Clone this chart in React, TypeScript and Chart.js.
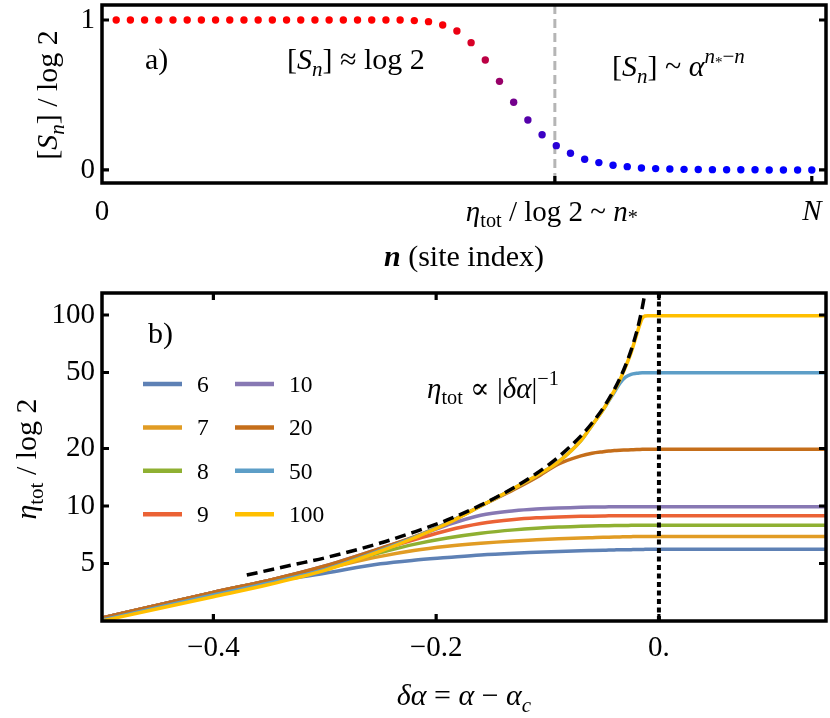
import React, { useEffect, useRef } from 'react';
import { Chart, registerables } from 'chart.js';

Chart.register(...registerables);

const FONT = "'Liberation Serif', 'Times New Roman', 'DejaVu Serif', serif";

// ---------- Panel a) : entanglement profile ----------
const SITE_INDEX = [
  1, 2, 3, 4, 5, 6, 7, 8, 9, 10, 11, 12, 13, 14, 15, 16, 17, 18, 19, 20,
  21, 22, 23, 24, 25, 26, 27, 28, 29, 30, 31, 32, 33, 34, 35, 36, 37, 38, 39, 40,
  41, 42, 43, 44, 45, 46, 47, 48, 49, 50,
];
const ENTROPY = [
  1, 1, 1, 1, 1, 1, 1, 1, 1, 1, 1, 1, 1, 1, 1, 1, 1, 1, 1, 1,
  1, 0.996, 0.989, 0.967, 0.927, 0.849, 0.733, 0.591, 0.451, 0.333,
  0.235, 0.162, 0.111, 0.071, 0.049, 0.031, 0.022, 0.013, 0.009, 0.006,
  0.004, 0.003, 0.002, 0.001, 0.001, 0.001, 0.0, 0.0, 0.0, 0.0,
];
const N_STAR = 31.9;
const N_TOTAL = 50;
const A_X_TICKS = [0, N_STAR, N_TOTAL];
const A_X_LABELS = ['0', '', 'N'];
const A_Y_TICKS = [0, 1];
const A_Y_LABELS = ['0', '1'];

// ---------- Panel b) : eta_tot vs delta alpha ----------
const DELTA_ALPHA = [
  -0.5, -0.45, -0.4, -0.35, -0.3, -0.25, -0.22, -0.19, -0.16, -0.13,
  -0.11, -0.09, -0.07, -0.06, -0.05, -0.045, -0.04, -0.035, -0.03, -0.025,
  -0.02, -0.0175, -0.015, -0.0125, -0.01, 0, 0.05, 0.1, 0.15,
];
const SYSTEM_SIZES = ['6', '7', '8', '9', '10', '20', '50', '100'];
const ETA_6 = [2.59, 3.02, 3.52, 4.0, 4.45, 4.98, 5.2, 5.37, 5.54, 5.66, 5.72, 5.78, 5.83, 5.85, 5.87, 5.88, 5.89, 5.9, 5.9, 5.91, 5.92, 5.92, 5.92, 5.93, 5.93, 5.93, 5.93, 5.93, 5.93];
const ETA_7 = [2.59, 3.02, 3.53, 4.07, 4.7, 5.45, 5.85, 6.15, 6.38, 6.56, 6.65, 6.73, 6.8, 6.83, 6.86, 6.87, 6.88, 6.89, 6.9, 6.91, 6.92, 6.92, 6.92, 6.93, 6.93, 6.93, 6.93, 6.93, 6.93];
const ETA_8 = [2.59, 3.02, 3.53, 4.08, 4.78, 5.7, 6.3, 6.8, 7.2, 7.5, 7.65, 7.76, 7.83, 7.86, 7.88, 7.89, 7.9, 7.91, 7.91, 7.92, 7.92, 7.92, 7.92, 7.92, 7.92, 7.92, 7.92, 7.92, 7.92];
const ETA_9 = [2.59, 3.02, 3.53, 4.08, 4.82, 5.9, 6.65, 7.45, 8.1, 8.5, 8.67, 8.77, 8.83, 8.85, 8.87, 8.88, 8.88, 8.89, 8.89, 8.9, 8.9, 8.9, 8.9, 8.9, 8.9, 8.9, 8.9, 8.9, 8.9];
const ETA_10 = [2.59, 3.02, 3.53, 4.08, 4.85, 6.0, 6.85, 7.95, 8.95, 9.45, 9.65, 9.77, 9.84, 9.87, 9.89, 9.9, 9.9, 9.91, 9.91, 9.92, 9.92, 9.92, 9.92, 9.92, 9.92, 9.92, 9.92, 9.92, 9.92];
const ETA_20 = [2.59, 3.02, 3.53, 4.08, 4.85, 6.0, 6.9, 8.15, 10.0, 12.2, 14.1, 16.6, 18.3, 18.9, 19.25, 19.4, 19.5, 19.6, 19.65, 19.7, 19.75, 19.78, 19.8, 19.8, 19.8, 19.8, 19.8, 19.8, 19.8];
const ETA_50 = [2.53, 2.94, 3.42, 3.95, 4.65, 5.85, 6.85, 8.15, 10.0, 12.4, 14.4, 17.1, 22.0, 26.5, 32.0, 35.5, 39.5, 44.0, 47.3, 48.9, 49.5, 49.7, 49.8, 49.8, 49.8, 49.8, 49.8, 49.8, 49.8];
const ETA_100 = [2.5, 2.9, 3.35, 3.88, 4.6, 5.8, 6.8, 8.1, 10.0, 12.4, 14.4, 17.1, 22.0, 26.5, 32.0, 35.8, 40.2, 45.8, 53.5, 63.5, 79.0, 88.0, 96.0, 98.8, 99.2, 99.2, 99.2, 99.2, 99.2];
const ETA_SERIES = [ETA_6, ETA_7, ETA_8, ETA_9, ETA_10, ETA_20, ETA_50, ETA_100];
const SERIES_COLORS = ['#5E81B5', '#E19C24', '#8FB032', '#EB6235', '#8778B3', '#C56E1A', '#5D9EC7', '#FFBF00'];

const FIT_X = [-0.37, -0.33, -0.3, -0.25, -0.22, -0.19, -0.16, -0.13, -0.11, -0.09, -0.07, -0.06, -0.05, -0.04, -0.035, -0.03, -0.025, -0.02, -0.0175, -0.015, -0.0125, -0.011];
const FIT_Y = [4.35, 4.9, 5.35, 6.4, 7.3, 8.45, 10.1, 12.5, 14.8, 18.1, 23.3, 27.2, 32.6, 40.8, 46.6, 54.4, 65.3, 81.6, 93.3, 109, 131, 148];

const B_X_TICKS = [-0.4, -0.2, 0];
const B_X_LABELS = ['\u22120.4', '\u22120.2', '0.'];
const B_Y_TICKS = [5, 10, 20, 50, 100];
const CRITICAL = 0;

// ---------- rich text helper ----------
type Seg = { t: string; i?: boolean; b?: boolean; s?: number; dy?: number };

function fontOf(seg: Seg, size: number) {
  return `${seg.i ? 'italic ' : ''}${seg.b ? 'bold ' : ''}${(size * (seg.s ?? 1)).toFixed(2)}px ${FONT}`;
}

function drawRich(ctx: CanvasRenderingContext2D, segs: Seg[], x: number, y: number, size: number, align = 'left', angle = 0) {
  ctx.save();
  ctx.translate(x, y);
  if (angle) ctx.rotate(angle);
  ctx.textBaseline = 'alphabetic';
  ctx.textAlign = 'left';
  ctx.fillStyle = '#000';
  let w = 0;
  for (const s of segs) {
    ctx.font = fontOf(s, size);
    w += ctx.measureText(s.t).width;
  }
  let cx = align === 'center' ? -w / 2 : align === 'right' ? -w : 0;
  for (const s of segs) {
    ctx.font = fontOf(s, size);
    ctx.fillText(s.t, cx, (s.dy ?? 0) * size);
    cx += ctx.measureText(s.t).width;
  }
  ctx.restore();
}

const SUB = 0.22;
const SUP = -0.45;

function drawFrame(chart: any, xb: number[], xt: number[], yl: number[], yr: number[]) {
  const { ctx, chartArea: a, scales } = chart;
  ctx.save();
  ctx.strokeStyle = '#000';
  ctx.setLineDash([]);
  ctx.lineWidth = 3.5;
  ctx.strokeRect(a.left, a.top, a.right - a.left, a.bottom - a.top);
  const tl = 7;
  ctx.lineWidth = 3.2;
  ctx.beginPath();
  for (const v of xb) {
    const p = scales.x.getPixelForValue(v);
    ctx.moveTo(p, a.bottom);
    ctx.lineTo(p, a.bottom - tl);
  }
  for (const v of xt) {
    const p = scales.x.getPixelForValue(v);
    ctx.moveTo(p, a.top);
    ctx.lineTo(p, a.top + tl);
  }
  for (const v of yl) {
    const p = scales.y.getPixelForValue(v);
    ctx.moveTo(a.left, p);
    ctx.lineTo(a.left + tl, p);
  }
  for (const v of yr) {
    const p = scales.y.getPixelForValue(v);
    ctx.moveTo(a.right, p);
    ctx.lineTo(a.right - tl, p);
  }
  ctx.stroke();
  ctx.restore();
}

const tickFont = { family: FONT, size: 29 };

function zeroPad(s: any) {
  s.paddingTop = 0;
  s.paddingBottom = 0;
  s.paddingLeft = 0;
  s.paddingRight = 0;
}

export default function App() {
  const topRef = useRef<HTMLCanvasElement>(null);
  const botRef = useRef<HTMLCanvasElement>(null);

  useEffect(() => {
    const topChart = new Chart(topRef.current as HTMLCanvasElement, {
      type: 'scatter',
      data: {
        datasets: [
          {
            label: '[S_n] / log 2',
            data: SITE_INDEX.map((n, i) => ({ x: n, y: ENTROPY[i] })),
            showLine: false,
            pointRadius: 3.7,
            pointHoverRadius: 3.7,
            pointBorderWidth: 0,
            pointBackgroundColor: (c: any) => {
              const v = Math.max(0, Math.min(1, c.raw ? c.raw.y : 0));
              return `rgb(${Math.round(255 * v)},0,${Math.round(255 * (1 - v))})`;
            },
          } as any,
        ],
      },
      options: {
        animation: false,
        responsive: false,
        devicePixelRatio: 1,
        layout: { padding: { top: 5, right: 4, left: 0, bottom: 0 } },
        plugins: { legend: { display: false }, tooltip: { enabled: false } },
        scales: {
          x: {
            type: 'linear',
            min: 0,
            max: 51,
            grid: { display: false, drawTicks: false },
            border: { display: false },
            afterFit: (s: any) => { s.height = 97; zeroPad(s); },
            afterBuildTicks: (s: any) => { s.ticks = A_X_TICKS.map((v) => ({ value: v })); },
            ticks: {
              autoSkip: false,
              maxRotation: 0,
              padding: 12,
              color: '#000',
              callback: (_v: any, i: number) => A_X_LABELS[i],
              font: (c: any) => (c.tick && c.index === 2 ? { ...tickFont, style: 'italic' } : tickFont),
            },
          },
          y: {
            type: 'linear',
            min: -0.087,
            max: 1.1,
            grid: { display: false, drawTicks: false },
            border: { display: false },
            afterFit: (s: any) => { s.width = 102; zeroPad(s); },
            afterBuildTicks: (s: any) => { s.ticks = A_Y_TICKS.map((v) => ({ value: v })); },
            ticks: {
              autoSkip: false,
              padding: 7,
              color: '#000',
              font: tickFont,
              callback: (_v: any, i: number) => A_Y_LABELS[i],
            },
          },
        },
      },
      plugins: [
        {
          id: 'aDecor',
          beforeDatasetsDraw(chart: any) {
            const { ctx, chartArea: a, scales } = chart;
            const p = scales.x.getPixelForValue(N_STAR);
            ctx.save();
            ctx.strokeStyle = '#b5b5b5';
            ctx.lineWidth = 3;
            ctx.setLineDash([9, 5]);
            ctx.beginPath();
            ctx.moveTo(p, a.top);
            ctx.lineTo(p, a.bottom);
            ctx.stroke();
            ctx.restore();
          },
          afterDatasetsDraw(chart: any) {
            drawFrame(chart, [N_STAR, N_TOTAL], [], A_Y_TICKS, A_Y_TICKS);
          },
          afterDraw(chart: any) {
            const { ctx, scales } = chart;
            const px = scales.x.getPixelForValue(N_STAR);
            drawRich(ctx, [
              { t: '\u03B7', i: true }, { t: 'tot', s: 0.7, dy: SUB }, { t: ' / log 2 ~ ' },
              { t: 'n', i: true }, { t: '*', s: 0.7, dy: 0.12 },
            ], px - 3, 221, 29, 'center');
            drawRich(ctx, [{ t: 'n', i: true, b: true }, { t: ' (site index)' }], 464, 266, 30, 'center');
            drawRich(ctx, [
              { t: '[' }, { t: 'S', i: true }, { t: 'n', i: true, s: 0.7, dy: SUB }, { t: '] / log 2' },
            ], 57, 95, 30, 'center', -Math.PI / 2);
            drawRich(ctx, [{ t: 'a)' }], 145, 69, 30);
            drawRich(ctx, [
              { t: '[' }, { t: 'S', i: true }, { t: 'n', i: true, s: 0.7, dy: SUB }, { t: '] \u2248 log 2' },
            ], 287, 69, 30);
            drawRich(ctx, [
              { t: '[' }, { t: 'S', i: true }, { t: 'n', i: true, s: 0.7, dy: SUB }, { t: '] ~ ' },
              { t: '\u03B1', i: true }, { t: 'n', i: true, s: 0.7, dy: SUP }, { t: '*', s: 0.5, dy: -0.3 },
              { t: '\u2212', s: 0.7, dy: SUP }, { t: 'n', i: true, s: 0.7, dy: SUP },
            ], 612, 76, 30);
          },
        },
      ],
    } as any);

    const bottomChart = new Chart(botRef.current as HTMLCanvasElement, {
      type: 'line',
      data: {
        datasets: [
          {
            label: 'fit',
            data: FIT_X.map((x, i) => ({ x, y: FIT_Y[i] })),
            borderColor: '#000',
            borderWidth: 3.5,
            borderDash: [11, 6],
            pointRadius: 0,
            fill: false,
            cubicInterpolationMode: 'monotone',
            order: 0,
          },
          ...SYSTEM_SIZES.map((lab, k) => ({
            label: lab,
            data: DELTA_ALPHA.map((x, i) => ({ x, y: ETA_SERIES[k][i] })),
            borderColor: SERIES_COLORS[k],
            backgroundColor: SERIES_COLORS[k],
            borderWidth: 3.5,
            pointRadius: 0,
            fill: false,
            cubicInterpolationMode: 'monotone',
            order: SYSTEM_SIZES.length - k,
          })),
        ],
      },
      options: {
        animation: false,
        responsive: false,
        devicePixelRatio: 1,
        layout: { padding: { top: 13, right: 4, left: 0, bottom: 0 } },
        plugins: { legend: { display: false }, tooltip: { enabled: false } },
        scales: {
          x: {
            type: 'linear',
            min: -0.5,
            max: 0.15,
            grid: { display: false, drawTicks: false },
            border: { display: false },
            afterFit: (s: any) => { s.height = 97; zeroPad(s); },
            afterBuildTicks: (s: any) => { s.ticks = B_X_TICKS.map((v) => ({ value: v })); },
            ticks: {
              autoSkip: false,
              maxRotation: 0,
              padding: 10,
              color: '#000',
              font: tickFont,
              callback: (_v: any, i: number) => B_X_LABELS[i],
            },
          },
          y: {
            type: 'logarithmic',
            min: 2.5,
            max: 130.4,
            grid: { display: false, drawTicks: false },
            border: { display: false },
            afterFit: (s: any) => { s.width = 102; zeroPad(s); },
            afterBuildTicks: (s: any) => { s.ticks = B_Y_TICKS.map((v) => ({ value: v })); },
            ticks: {
              autoSkip: false,
              padding: 7,
              color: '#000',
              font: tickFont,
              callback: (_v: any, i: number) => String(B_Y_TICKS[i]),
            },
          },
        },
      },
      plugins: [
        {
          id: 'bDecor',
          afterDatasetsDraw(chart: any) {
            const { ctx, chartArea: a, scales } = chart;
            const p = scales.x.getPixelForValue(CRITICAL);
            ctx.save();
            ctx.strokeStyle = '#000';
            ctx.lineWidth = 4;
            ctx.setLineDash([5, 3.5]);
            ctx.beginPath();
            ctx.moveTo(p, a.top);
            ctx.lineTo(p, a.bottom);
            ctx.stroke();
            ctx.restore();
            drawFrame(chart, B_X_TICKS, B_X_TICKS, B_Y_TICKS, B_Y_TICKS);
          },
          afterDraw(chart: any) {
            const { ctx, chartArea: a } = chart;
            // legend (two columns)
            ctx.save();
            ctx.setLineDash([]);
            ctx.lineWidth = 4.5;
            SYSTEM_SIZES.forEach((lab, k) => {
              const col = Math.floor(k / 4);
              const row = k % 4;
              const cy = a.top + 91 + row * 43.4;
              const x0 = a.left + (col === 0 ? 41 : 133);
              ctx.strokeStyle = SERIES_COLORS[k];
              ctx.beginPath();
              ctx.moveTo(x0, cy);
              ctx.lineTo(x0 + 39, cy);
              ctx.stroke();
              drawRich(ctx, [{ t: lab }], x0 + 54, cy + 8, 23.5);
            });
            ctx.restore();
            drawRich(ctx, [{ t: 'b)' }], 148, 63, 30);
            drawRich(ctx, [
              { t: '\u03B7', i: true }, { t: 'tot', s: 0.7, dy: SUB }, { t: ' \u221D |' },
              { t: '\u03B4\u03B1', i: true }, { t: '|' }, { t: '\u22121', s: 0.7, dy: SUP },
            ], 427, 118, 29);
            drawRich(ctx, [
              { t: '\u03B4\u03B1', i: true }, { t: ' = ' }, { t: '\u03B1', i: true }, { t: ' \u2212 ' },
              { t: '\u03B1', i: true }, { t: 'c', i: true, s: 0.7, dy: SUB },
            ], 464, 425, 30, 'center');
            drawRich(ctx, [
              { t: '\u03B7', i: true }, { t: 'tot', s: 0.7, dy: SUB }, { t: ' / log 2' },
            ], 36, 179, 30, 'center', -Math.PI / 2);
          },
        },
      ],
    } as any);

    return () => {
      topChart.destroy();
      bottomChart.destroy();
    };
  }, []);

  return (
    <div style={{ position: 'fixed', left: 0, top: 0, width: 830, height: 718, background: '#fff' }}>
      <canvas ref={topRef} width={830} height={280} style={{ position: 'absolute', left: 0, top: 0, width: 830, height: 280 }} />
      <canvas ref={botRef} width={830} height={438} style={{ position: 'absolute', left: 0, top: 280, width: 830, height: 438 }} />
    </div>
  );
}
